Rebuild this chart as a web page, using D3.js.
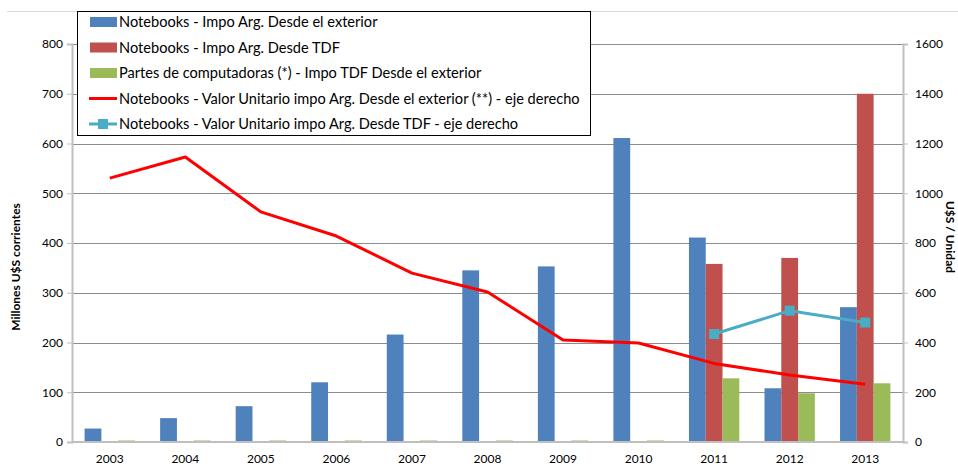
<!DOCTYPE html>
<html lang="es">
<head>
<meta charset="utf-8">
<title>Notebooks - importaciones</title>
<script src="https://d3js.org/d3.v7.min.js"></script>
<style>
  body { margin: 0; background: #fff; }
  text { font-family: Lato, "Open Sans", sans-serif; fill: #000; }
</style>
</head>
<body>
<script>
// data
const years = ["2003","2004","2005","2006","2007","2008","2009","2010","2011","2012","2013"];
const impoExterior = [27, 48, 72, 120, 216, 345, 353, 611, 411, 108, 271];
const impoTDF = [0, 0, 0, 0, 0, 0, 0, 0, 358, 370, 700];
const partesTDF = [3, 3, 3, 3, 3, 3, 3, 3, 128, 98, 118];
const valorExterior = [1061, 1146, 925, 828, 679, 603, 410, 398, 316, 269, 232];
const valorTDF = [null, null, null, null, null, null, null, null, 434, 528, 480];
const leftTicks = [0, 100, 200, 300, 400, 500, 600, 700, 800];
const rightTicks = [0, 200, 400, 600, 800, 1000, 1200, 1400, 1600];

const barSeries = [
  { name: "Notebooks - Impo Arg. Desde el exterior", values: impoExterior, color: "#4F81BD" },
  { name: "Notebooks - Impo Arg. Desde TDF", values: impoTDF, color: "#C0504D" },
  { name: "Partes de computadoras (*) - Impo TDF Desde el exterior", values: partesTDF, color: "#9BBB59" }
];
const lineSeries = [
  { name: "Notebooks - Valor Unitario impo Arg. Desde el exterior (**) - eje derecho", values: valorExterior, color: "#FF0000", marker: false },
  { name: "Notebooks - Valor Unitario impo Arg. Desde TDF - eje derecho", values: valorTDF, color: "#4BACC6", marker: true }
];

const width = 958, height = 466;
const plotLeft = 72, plotRight = 903, plotTop = 44, plotBottom = 442;

const svg = d3.select("body").append("svg")
  .attr("width", width)
  .attr("height", height);

// outer border line at top
svg.append("line")
  .attr("x1", 7).attr("x2", width).attr("y1", 11.5).attr("y2", 11.5)
  .attr("stroke", "#d9d9d9");

const x = d3.scaleBand().domain(years).range([plotLeft, plotRight]);
const barW = x.bandwidth() / 4.5;
const x1 = d3.scaleBand().domain(d3.range(3))
  .range([barW * 0.75, barW * 3.75]);
const yL = d3.scaleLinear().domain([0, 800]).range([plotBottom, plotTop]);
const yR = d3.scaleLinear().domain([0, 1600]).range([plotBottom, plotTop]);

// gridlines
svg.append("g").selectAll("line")
  .data(leftTicks.slice(1))
  .join("line")
  .attr("x1", plotLeft).attr("x2", plotRight)
  .attr("y1", d => Math.round(yL(d)) + 0.5).attr("y2", d => Math.round(yL(d)) + 0.5)
  .attr("stroke", "#8c8c8c");

// bars
barSeries.forEach((s, i) => {
  svg.append("g").selectAll("rect")
    .data(s.values.map((v, j) => ({ year: years[j], v: v })).filter(d => d.v > 0))
    .join("rect")
    .attr("x", d => x(d.year) + x1(i))
    .attr("width", x1.bandwidth())
    .attr("y", d => yL(d.v))
    .attr("height", d => plotBottom - yL(d.v))
    .attr("fill", s.color);
});

// axes
const leftAxis = svg.append("g")
  .attr("transform", "translate(" + plotLeft + ",0)")
  .call(d3.axisLeft(yL).tickValues(leftTicks).tickSize(5).tickPadding(4));
const rightAxis = svg.append("g")
  .attr("transform", "translate(" + plotRight + ",0)")
  .call(d3.axisRight(yR).tickValues(rightTicks).tickFormat(d3.format("d")).tickSize(5).tickPadding(7));
const bottomAxis = svg.append("g")
  .attr("transform", "translate(0," + plotBottom + ")")
  .call(d3.axisBottom(x).tickSize(0).tickPadding(12));

[leftAxis, rightAxis, bottomAxis].forEach(g => {
  g.selectAll(".domain").attr("stroke", "#bfbfbf").attr("stroke-width", 2);
  g.selectAll(".tick line").attr("stroke", "#bfbfbf");
  g.selectAll("text").style("font-size", "12px").attr("fill", "#000");
});
bottomAxis.select(".domain").attr("d", "M" + plotLeft + ",0H" + plotRight);

// lines
const line = d3.line()
  .defined(d => d.v != null)
  .x(d => x(d.year) + x.bandwidth() / 2)
  .y(d => yR(d.v));

lineSeries.forEach(s => {
  const pts = s.values.map((v, j) => ({ year: years[j], v: v }));
  svg.append("path")
    .datum(pts)
    .attr("fill", "none")
    .attr("stroke", s.color)
    .attr("stroke-width", 3)
    .attr("stroke-linejoin", "round")
    .attr("d", line);
  if (s.marker) {
    svg.append("g").selectAll("rect")
      .data(pts.filter(d => d.v != null))
      .join("rect")
      .attr("x", d => x(d.year) + x.bandwidth() / 2 - 5)
      .attr("y", d => yR(d.v) - 5)
      .attr("width", 10).attr("height", 10)
      .attr("fill", s.color);
  }
});

// axis titles
svg.append("text")
  .attr("transform", "translate(20,267) rotate(-90)")
  .attr("text-anchor", "middle")
  .style("font-size", "12px")
  .style("font-weight", "bold")
  .text("Millones U$S corrientes");

svg.append("text")
  .attr("transform", "translate(946,237) rotate(90)")
  .attr("text-anchor", "middle")
  .style("font-size", "12px")
  .style("font-weight", "bold")
  .text("U$S / Unidad");

// legend
const legend = svg.append("g");
legend.append("rect")
  .attr("x", 77.5).attr("y", 11.5)
  .attr("width", 513).attr("height", 124)
  .attr("fill", "#fff")
  .attr("stroke", "#000");

const items = barSeries.map(s => ({ name: s.name, color: s.color, type: "bar" }))
  .concat(lineSeries.map(s => ({ name: s.name, color: s.color, type: s.marker ? "marker" : "line" })));

items.forEach((d, i) => {
  const cy = 22 + i * 25.5;
  if (d.type === "bar") {
    legend.append("rect")
      .attr("x", 90).attr("y", cy - 5).attr("width", 27).attr("height", 10)
      .attr("fill", d.color);
  } else {
    legend.append("line")
      .attr("x1", 89).attr("x2", 117).attr("y1", cy).attr("y2", cy)
      .attr("stroke", d.color).attr("stroke-width", 3);
    if (d.type === "marker") {
      legend.append("rect")
        .attr("x", 98).attr("y", cy - 5).attr("width", 10).attr("height", 10)
        .attr("fill", d.color);
    }
  }
  legend.append("text")
    .attr("x", 119).attr("y", cy)
    .attr("dy", "0.35em")
    .style("font-size", "14.6px")
    .text(d.name);
});
</script>
</body>
</html>
